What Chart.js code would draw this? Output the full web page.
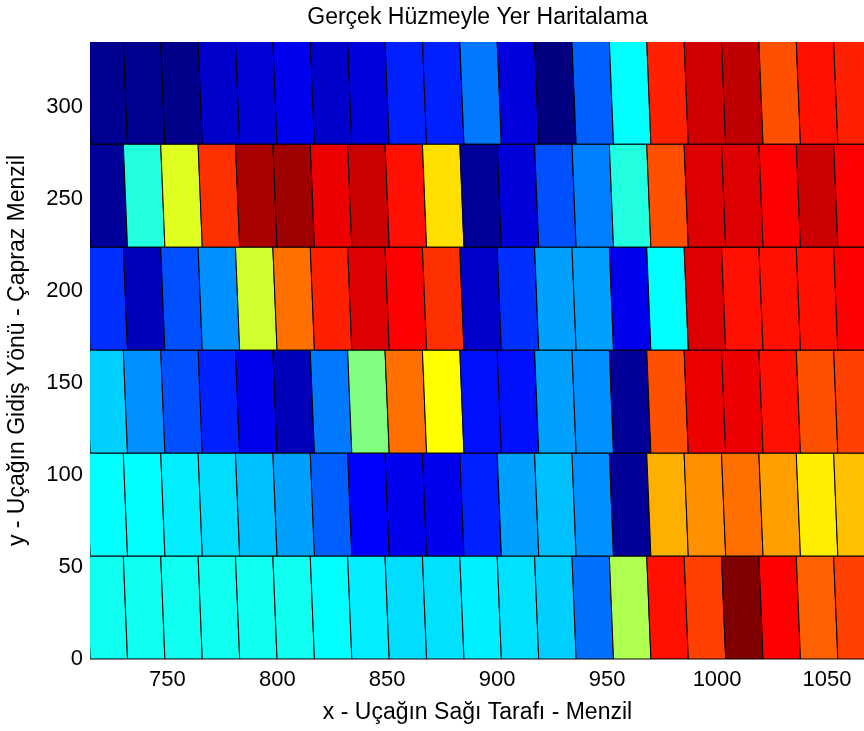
<!DOCTYPE html>
<html>
<head>
<meta charset="utf-8">
<title>Gerçek Hüzmeyle Yer Haritalama</title>
<script src="https://cdn.jsdelivr.net/npm/chart.js@4.4.1/dist/chart.umd.min.js"></script>
<style>
  html, body { margin: 0; padding: 0; background: #fff; }
  canvas { display: block; }
</style>
</head>
<body>
<canvas id="groundMap" width="864" height="731"></canvas>
<script>
// cell edges along range (x) and along track (y)
const rangeEdges = [713, 730, 747, 764, 781, 798, 815, 832, 849, 866, 883,
                    900, 917, 934, 951, 968, 985, 1002, 1019, 1036, 1053, 1070];
const trackEdges = [0, 56, 112, 168, 224, 280, 336];

// normalised echo level per cell, bottom row first
const row1 = [0.39, 0.39, 0.39, 0.39, 0.39, 0.39, 0.375, 0.358, 0.342, 0.345, 0.36,
              0.345, 0.329, 0.235, 0.547, 0.859, 0.812, 1.0, 0.875, 0.781, 0.812];
const row2 = [0.375, 0.375, 0.358, 0.342, 0.313, 0.282, 0.219, 0.125, 0.108, 0.108, 0.156,
              0.282, 0.313, 0.266, 0.025, 0.703, 0.734, 0.765, 0.718, 0.642, 0.687];
const row3 = [0.329, 0.266, 0.203, 0.156, 0.108, 0.058, 0.243, 0.5, 0.765, 0.625, 0.141,
              0.141, 0.282, 0.266, 0.025, 0.797, 0.892, 0.892, 0.859, 0.797, 0.812];
const row4 = [0.172, 0.058, 0.203, 0.266, 0.579, 0.765, 0.844, 0.908, 0.875, 0.828, 0.075,
              0.172, 0.282, 0.282, 0.108, 0.375, 0.908, 0.859, 0.859, 0.859, 0.875];
const row5 = [0.025, 0.406, 0.594, 0.828, 0.958, 0.969, 0.892, 0.925, 0.859, 0.656, 0.025,
              0.09, 0.203, 0.25, 0.406, 0.797, 0.908, 0.908, 0.875, 0.925, 0.875];
const row6 = [0.016, 0.016, 0.01, 0.075, 0.087, 0.11, 0.075, 0.092, 0.156, 0.156, 0.243,
              0.092, 0.0, 0.219, 0.375, 0.844, 0.921, 0.937, 0.797, 0.859, 0.844];
const rows = [row1, row2, row3, row4, row5, row6];

const xTicks = [750, 800, 850, 900, 950, 1000, 1050];
const yTicks = [0, 50, 100, 150, 200, 250, 300];

// beam squint: bottom edge of each cell sits a bit further out in range
const shear = 1.9;

const FONT = "'Liberation Sans', Arial, Helvetica, sans-serif";

function jet(v) {
  const c = t => Math.round(255 * Math.min(1, Math.max(0, t)));
  const r = c(1.5 - Math.abs(4 * v - 3));
  const g = c(1.5 - Math.abs(4 * v - 2));
  const b = c(1.5 - Math.abs(4 * v - 1));
  return `rgb(${r},${g},${b})`;
}

// draws the skewed pcolor-style cells using the chart's scales
const cellPlugin = {
  id: "cells",
  beforeDatasetsDraw(chart) {
    const { ctx, chartArea: a, scales: { x, y } } = chart;
    ctx.save();
    ctx.beginPath();
    ctx.rect(a.left - 1, a.top, a.right - a.left + 1, a.bottom - a.top + 1);
    ctx.clip();
    ctx.lineWidth = 1;
    ctx.strokeStyle = "#000";
    rows.forEach((vals, r) => {
      const yb = y.getPixelForValue(trackEdges[r]);
      const yt = y.getPixelForValue(trackEdges[r + 1]);
      vals.forEach((v, c) => {
        const xl = rangeEdges[c];
        const xr = rangeEdges[c + 1];
        ctx.beginPath();
        ctx.moveTo(x.getPixelForValue(xl), yt);
        ctx.lineTo(x.getPixelForValue(xr), yt);
        ctx.lineTo(x.getPixelForValue(xr + shear), yb);
        ctx.lineTo(x.getPixelForValue(xl + shear), yb);
        ctx.closePath();
        ctx.fillStyle = jet(v);
        ctx.fill();
        ctx.stroke();
      });
    });
    ctx.restore();
  }
};

new Chart(document.getElementById("groundMap"), {
  type: "scatter",
  data: { datasets: [] },
  plugins: [cellPlugin],
  options: {
    responsive: false,
    animation: false,
    devicePixelRatio: 1,
    layout: { padding: 0 },
    plugins: {
      legend: { display: false },
      tooltip: { enabled: false }
    },
    scales: {
      // top axis only carries the title so it centres over the plot
      top: {
        type: "linear",
        position: "top",
        min: 715.3,
        max: 1066.8,
        afterFit: s => { s.height = 42; },
        grid: { display: false, drawTicks: false },
        border: { display: false },
        ticks: { display: false },
        title: {
          display: true,
          text: "Gerçek Hüzmeyle Yer Haritalama",
          color: "#000",
          font: { family: FONT, size: 23 },
          padding: { top: 4, bottom: 0 }
        }
      },
      x: {
        type: "linear",
        min: 715.3,
        max: 1066.8,
        afterBuildTicks: s => { s.ticks = xTicks.map(v => ({ value: v })); },
        afterFit: s => { s.height = 72; },
        grid: { display: false, drawTicks: false },
        border: { display: false },
        ticks: {
          color: "#000",
          padding: 8,
          maxRotation: 0,
          font: { family: FONT, size: 22 },
          callback: v => String(v)
        },
        title: {
          display: true,
          text: "x - Uçağın Sağı Tarafı - Menzil",
          color: "#000",
          font: { family: FONT, size: 23 },
          padding: { top: 0, bottom: 5 }
        }
      },
      y: {
        type: "linear",
        min: 0,
        max: 335.5,
        afterBuildTicks: s => { s.ticks = yTicks.map(v => ({ value: v })); },
        afterFit: s => { s.width = 91; },
        grid: { display: false, drawTicks: false },
        border: { display: false },
        ticks: {
          color: "#000",
          padding: 8,
          font: { family: FONT, size: 22 },
          callback: v => String(v)
        },
        title: {
          display: true,
          text: "y - Uçağın Gidiş Yönü - Çapraz Menzil",
          color: "#000",
          font: { family: FONT, size: 23 },
          padding: { top: 4, bottom: 0 }
        }
      }
    }
  }
});
</script>
</body>
</html>
